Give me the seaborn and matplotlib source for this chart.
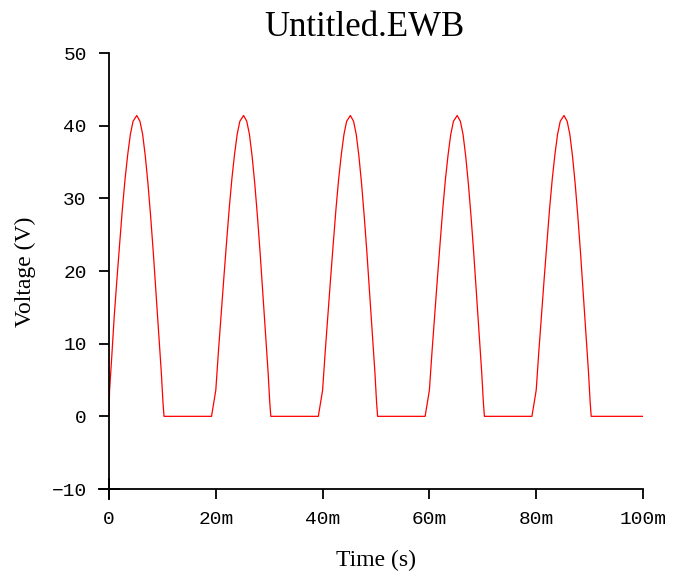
import matplotlib
matplotlib.use("Agg")
import matplotlib.pyplot as plt
import pandas as pd
import seaborn as sns

# values (time in ms, voltage in V)
time_ms = [
    0.0, 0.1, 0.5, 1.0, 1.5, 2.0, 2.5, 3.0, 3.5, 4.0, 4.5, 5.2,
    5.8, 6.3, 6.8, 7.3, 7.8, 8.3, 8.8, 9.3, 9.8, 10.1, 10.3,
    19.2, 20.0, 20.5, 21.0, 21.5, 22.0, 22.5, 23.0, 23.5, 24.0, 24.5, 25.2,
    25.8, 26.3, 26.8, 27.3, 27.8, 28.3, 28.8, 29.3, 29.8, 30.1, 30.3,
    39.2, 40.0, 40.5, 41.0, 41.5, 42.0, 42.5, 43.0, 43.5, 44.0, 44.5, 45.2,
    45.8, 46.3, 46.8, 47.3, 47.8, 48.3, 48.8, 49.3, 49.8, 50.1, 50.3,
    59.2, 60.0, 60.5, 61.0, 61.5, 62.0, 62.5, 63.0, 63.5, 64.0, 64.5, 65.2,
    65.8, 66.3, 66.8, 67.3, 67.8, 68.3, 68.8, 69.3, 69.8, 70.1, 70.3,
    79.2, 80.0, 80.5, 81.0, 81.5, 82.0, 82.5, 83.0, 83.5, 84.0, 84.5, 85.2,
    85.8, 86.3, 86.8, 87.3, 87.8, 88.3, 88.8, 89.3, 89.8, 90.1, 90.3,
    100.0,
]
voltage = [
    0.0, 3.5, 8.0, 14.0, 19.0, 23.8, 28.5, 32.6, 36.0, 38.8, 40.6, 41.4,
    40.6, 38.8, 35.8, 32.0, 27.5, 22.5, 17.0, 11.5, 6.0, 2.0, 0.0,
    0.0, 3.6, 9.0, 14.0, 19.0, 23.8, 28.5, 32.6, 36.0, 38.8, 40.6, 41.4,
    40.6, 38.8, 35.8, 32.0, 27.5, 22.5, 17.0, 11.5, 6.0, 2.0, 0.0,
    0.0, 3.6, 9.0, 14.0, 19.0, 23.8, 28.5, 32.6, 36.0, 38.8, 40.6, 41.4,
    40.6, 38.8, 35.8, 32.0, 27.5, 22.5, 17.0, 11.5, 6.0, 2.0, 0.0,
    0.0, 3.6, 9.0, 14.0, 19.0, 23.8, 28.5, 32.6, 36.0, 38.8, 40.6, 41.4,
    40.6, 38.8, 35.8, 32.0, 27.5, 22.5, 17.0, 11.5, 6.0, 2.0, 0.0,
    0.0, 3.6, 9.0, 14.0, 19.0, 23.8, 28.5, 32.6, 36.0, 38.8, 40.6, 41.4,
    40.6, 38.8, 35.8, 32.0, 27.5, 22.5, 17.0, 11.5, 6.0, 2.0, 0.0,
    0.0,
]

x_ticks = [0, 20, 40, 60, 80, 100]
x_tick_labels = ["0", "20m", "40m", "60m", "80m", "100m"]
y_ticks = [-10, 0, 10, 20, 30, 40, 50]

df = pd.DataFrame({"t": time_ms, "v": voltage})

sns.set_style("ticks")
serif = ["Liberation Serif", "DejaVu Serif"]
mono = ["Liberation Mono", "DejaVu Sans Mono"]

fig = plt.figure(figsize=(6.74, 5.74), dpi=100)
ax = fig.add_axes([109 / 674, 1 - 489 / 574, 534 / 674, 436 / 574])

sns.lineplot(data=df, x="t", y="v", color="#ff0000", linewidth=0.9,
             estimator=None, sort=False, ax=ax)

ax.set_xlim(0, 100)
ax.set_ylim(-10, 50)
ax.set_xticks(x_ticks)
ax.set_xticklabels(x_tick_labels)
ax.set_yticks(y_ticks)
ax.set_xlabel("")
ax.set_ylabel("")
sns.despine(ax=ax)
for s in ["left", "bottom"]:
    ax.spines[s].set_linewidth(1.3)
    ax.spines[s].set_color("black")

ax.tick_params(direction="out", length=7, width=1.3, colors="black",
               labelcolor="black", labelsize=14, pad=9)
for lab in ax.get_xticklabels() + ax.get_yticklabels():
    lab.set_family(mono)

# the corner tick crosses both spines
ax.plot([0], [-10], marker="+", markersize=16, markeredgewidth=1.3,
        color="black", clip_on=False, zorder=5)

fig.text(364 / 674, 1 - 28 / 574, "Untitled.EWB", ha="center", va="center",
         fontsize=25, family=serif, color="black")
fig.text(25 / 674, 1 - 272 / 574, "Voltage (V)", ha="center", va="center",
         rotation=90, fontsize=17, family=serif, color="black")
fig.text(376 / 674, 1 - 560 / 574, "Time (s)", ha="center", va="center",
         fontsize=17, family=serif, color="black")

fig.savefig("out.png", dpi=100, facecolor="white")
